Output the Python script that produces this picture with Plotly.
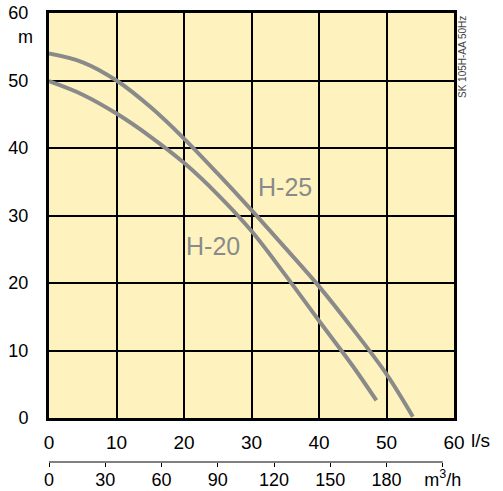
import plotly.graph_objects as go

# Data
q_h25 = [0, 5, 10, 15, 20, 25, 30, 35, 40, 45, 50, 53.9]
h_h25 = [54.0, 52.7, 50.0, 46.1, 41.4, 36.2, 30.8, 25.2, 19.5, 13.2, 6.5, 0.2]
q_h20 = [0, 5, 10, 15, 20, 25, 30, 35, 40, 45, 48.5]
h_h20 = [49.9, 47.9, 45.1, 41.7, 37.8, 33.1, 27.7, 21.2, 14.4, 7.7, 2.6]

ls_ticks = [0, 10, 20, 30, 40, 50, 60]
m_ticks = [0, 10, 20, 30, 40, 50, 60]
m3h_ticks = [0, 30, 60, 90, 120, 150, 180, 210]
m3h_labels = ["0", "30", "60", "90", "120", "150", "180", "m<sup>3</sup>/h"]

curve_color = "#8a8a8a"
font_family = "Liberation Sans, Arial, sans-serif"

fig = go.Figure()
fig.add_trace(go.Scatter(x=q_h25, y=h_h25, mode="lines", line=dict(color=curve_color, width=4, shape="spline"),
                         showlegend=False, hoverinfo="skip"))
fig.add_trace(go.Scatter(x=q_h20, y=h_h20, mode="lines", line=dict(color=curve_color, width=4, shape="spline"),
                         showlegend=False, hoverinfo="skip"))
# invisible trace so the secondary (m3/h) axis is drawn
fig.add_trace(go.Scatter(x=[], y=[], xaxis="x2", yaxis="y", showlegend=False, hoverinfo="skip"))

W, H = 503, 491
ml, mr, mt, mb = 49, 49, 13, 29
plot_h = 405
paper_h = H - mt - mb

fig.update_layout(
    width=W, height=H,
    margin=dict(l=ml, r=mr, t=mt, b=mb),
    paper_bgcolor="white",
    plot_bgcolor="#fef3bf",
    font=dict(family=font_family, size=18, color="black"),
    xaxis=dict(range=[0, 60], tickvals=ls_ticks, ticktext=[str(v) for v in ls_ticks],
               showgrid=True, gridcolor="black", gridwidth=1.5, zeroline=False,
               showline=True, linecolor="black", linewidth=3, mirror=True,
               ticks="", ticklabelstandoff=5, automargin=False, tickfont=dict(size=19)),
    yaxis=dict(range=[0, 60], tickvals=m_ticks, ticktext=[str(v) for v in m_ticks],
               showgrid=True, gridcolor="black", gridwidth=1.5, zeroline=False,
               showline=True, linecolor="black", linewidth=3, mirror=True,
               ticks="", ticklabelstandoff=14, automargin=False,
               domain=[(paper_h - plot_h) / paper_h, 1]),
    xaxis2=dict(range=[0, 216], overlaying="x", anchor="free", position=0, side="bottom",
                tickvals=m3h_ticks, ticktext=m3h_labels, ticks="outside", ticklen=4, tickwidth=1,
                tickcolor="black", showline=False, tickfont=dict(size=18),
                showgrid=False, zeroline=False, automargin=False, ticklabelstandoff=-3),
    shapes=[dict(type="line", xref="x2", yref="paper", x0=m3h_ticks[0], x1=m3h_ticks[-1], y0=0, y1=0,
                 line=dict(color="black", width=1))],
)

def px_x(px):
    return (px - ml) / 405

def px_y(py):
    return (H - mb - py) / paper_h

label_font = "Liberation Sans, Arial"
anns = [
    dict(text="m", x=px_x(25), y=px_y(37), xref="paper", yref="paper", showarrow=False,
         xanchor="center", yanchor="middle", font=dict(size=18, color="black")),
    dict(text="l/s", x=px_x(480), y=px_y(440), xref="paper", yref="paper", showarrow=False,
         xanchor="center", yanchor="middle", font=dict(size=19, color="black")),
    dict(text="SK 105H-AA 50Hz", x=px_x(462), y=px_y(57), xref="paper", yref="paper", showarrow=False,
         xanchor="center", yanchor="middle", textangle=-90, font=dict(size=10, color="#444444")),
    dict(text="H-25", x=35, y=34.2, xref="x", yref="y", showarrow=False,
         xanchor="center", yanchor="middle", font=dict(size=25, color=curve_color, family=label_font)),
    dict(text="H-20", x=24.3, y=25.5, xref="x", yref="y", showarrow=False,
         xanchor="center", yanchor="middle", font=dict(size=25, color=curve_color, family=label_font)),
]
fig.update_layout(annotations=anns)

html = fig.to_html(include_plotlyjs=True, full_html=True, config={"displayModeBar": False})
html = html.replace("<head>", "<head><style>html,body{margin:0;padding:0;overflow:hidden;}</style>", 1)
with open("out.html", "w", encoding="utf-8") as f:
    f.write(html)
